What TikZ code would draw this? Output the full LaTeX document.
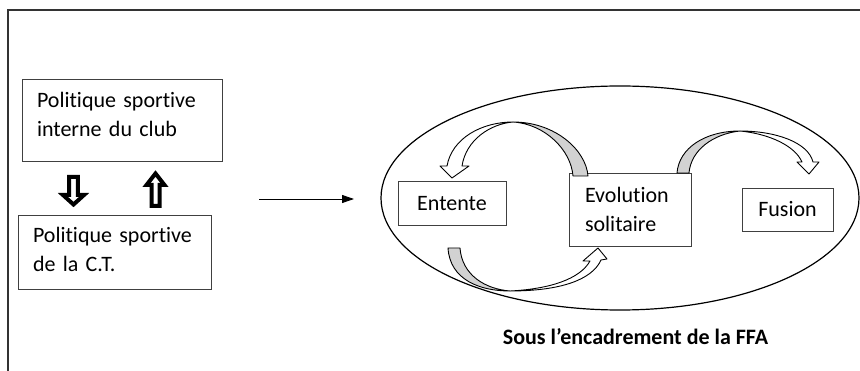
\documentclass[tikz,border=0pt]{standalone}
\usepackage{fontspec}
\setmainfont{Carlito}[Ligatures={NoCommon}]
\usepackage{tikz}
\usetikzlibrary{arrows.meta}

\definecolor{bandgray}{RGB}{210,210,210}
\tikzset{
  box/.style={draw=black!75, line width=0.8pt, inner xsep=15pt, text height=15pt, font=\fontsize{22}{29}\selectfont},
  band/.style={draw=black, line width=0.9pt, line join=round},
  blockarrow/.style={draw=black, line width=4pt, fill=white, line join=miter},
}

\begin{document}
\begin{tikzpicture}[x=1pt,y=-1pt]
    \useasboundingbox (0,0) rectangle (860,371);
    \draw[line width=1.5pt, black!80] (8,10) rectangle (900,420);

    \node[box, align=left, text width=170pt, inner ysep=14pt, text depth=39pt] (club) at (122,120) {Politique sportive\\interne du club};
    \node[box, align=left, text width=163pt, inner ysep=13pt, text depth=33pt] (ct) at (114.5,252) {Politique sportive\\de la C.T.};

    \draw[blockarrow] (69.2,177) -- (77.8,177) -- (77.8,195) -- (84,195) -- (73.5,204.5) -- (63,195) -- (69.2,195) -- cycle;
    \draw[blockarrow] (151.5,206) -- (159.5,206) -- (159.5,185) -- (164.5,185) -- (155.5,173.5) -- (146.5,185) -- (151.5,185) -- cycle;

    \coordinate (from) at (259,199);
    \coordinate (to) at (354,199);
    \draw[line width=0.9pt, -{Triangle[length=12pt,width=8pt]}] (from) -- (to);

    \draw[line width=1.2pt] (620,198) ellipse [x radius=239, y radius=112];

    \node[box, inner ysep=13.5pt, text depth=1.5pt, minimum width=108pt] (entente) at (452,203.5) {Entente};
    \node[box, align=left, text width=90pt, inner xsep=16pt, inner ysep=14pt, text height=16pt, text depth=29pt] (evol) at (630,209.5) {Evolution\\solitaire};
    \node[box, inner ysep=13.5pt, text depth=1.5pt, minimum width=91pt] (fusion) at (787.5,210) {Fusion};

    \draw[band, fill=bandgray] (513,122) .. controls (555,122) and (586,150) .. (588,176) -- (573,176) .. controls (571,150) and (545,124) .. (513,122) -- cycle;
    \draw[band, fill=white] (513,122) .. controls (482,122) and (452,138) .. (447,166) -- (440,166) -- (452,178) -- (469,166) -- (462,166) .. controls (466,140) and (490,124) .. (513,122) -- cycle;

    \draw[band, fill=bandgray] (677,173) .. controls (679,148) and (705,131) .. (740,131) .. controls (713,134) and (691,150) .. (689,173) -- cycle;
    \draw[band, fill=white] (740,131) .. controls (775,131) and (808,142) .. (813,162) -- (819,162) -- (809,174) -- (797,162) -- (802,162) .. controls (795,146) and (770,134) .. (740,131) -- cycle;

    \draw[band, fill=bandgray] (448,248) .. controls (450,280) and (480,291) .. (510,291) .. controls (485,289) and (462,275) .. (460,248) -- cycle;
    \draw[band, fill=white] (510,291) .. controls (560,291) and (592,280) .. (601,260) -- (607,259) -- (598,248) -- (583,261) -- (590,261) .. controls (580,279) and (550,289) .. (510,291) -- cycle;

    \node[font=\bfseries\fontsize{22}{29}\selectfont, anchor=base] (ffa) at (635.5,345) {Sous l’encadrement de la FFA};
\end{tikzpicture}
\end{document}
